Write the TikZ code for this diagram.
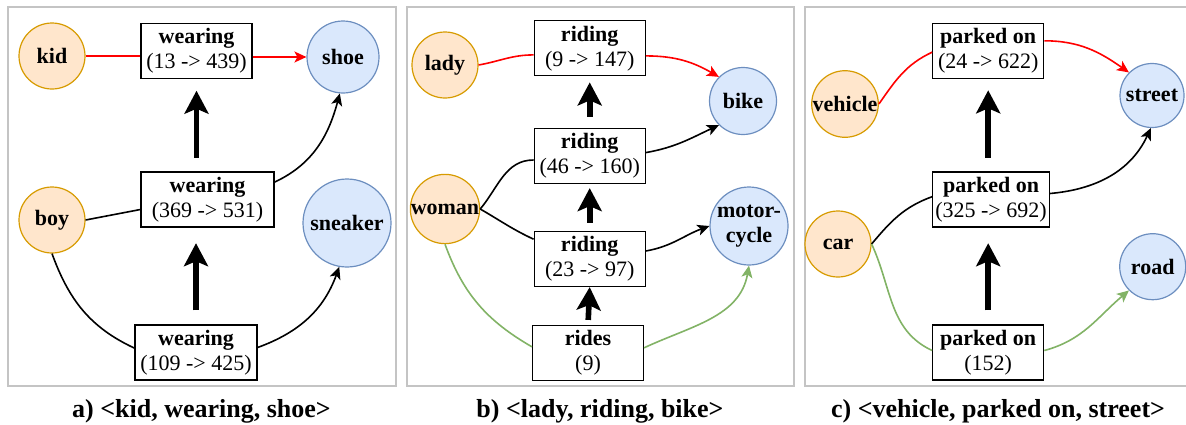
\documentclass[tikz,border=0pt]{standalone}
\usepackage{fontspec}
\setmainfont{Liberation Serif}
\usetikzlibrary{arrows.meta}

\definecolor{subjfill}{HTML}{FFE6CC}
\definecolor{subjline}{HTML}{D79B00}
\definecolor{objfill}{HTML}{DAE8FC}
\definecolor{objline}{HTML}{6C8EBF}
\definecolor{hitred}{HTML}{FF0000}
\definecolor{altgreen}{HTML}{82B366}
\definecolor{panelgray}{HTML}{C4C4C4}

\tikzset{
  subj/.style={circle, draw=subjline, fill=subjfill, line width=0.6pt, minimum size=33pt,
    inner sep=0pt, align=center, font=\fontsize{11}{12.5}\selectfont\bfseries},
  obj/.style={subj, draw=objline, fill=objfill},
  rel/.style={draw, rectangle, line width=0.6pt, minimum height=27.5pt, inner sep=1pt,
    align=center, font=\fontsize{11}{12.5}\selectfont},
  link/.style={line width=0.8pt},
  tip/.style={-{Stealth[length=6pt,width=5.5pt,inset=1.5pt]}},
  bigup/.style={-{Stealth[length=11.5pt,width=12pt,inset=2.5pt]}, line width=2.8pt},
  caption/.style={anchor=base, font=\fontsize{13}{15}\selectfont\bfseries},
}

\begin{document}
\begin{tikzpicture}[x=0.5pt, y=-0.5pt]
\useasboundingbox (0,0) rectangle (1186,424);

% panel frames
\foreach \l/\r in {8/396, 407/794, 805/1192}
  \draw[panelgray, line width=0.7pt] (\l,7) rectangle (\r,386);

% a) kid, wearing, shoe
\node[subj] (kid) at (52,56) {kid};
\node[obj, minimum size=36pt] (shoe) at (343,57) {shoe};
\node[subj] (boy) at (52,220) {boy};
\node[obj, minimum size=44pt] (sneaker) at (347,223) {sneaker};
\node[rel, minimum width=55.5pt] (aw1) at (196.5,51) {\textbf{wearing}\\(13 -> 439)};
\node[rel, minimum width=66.5pt] (aw2) at (207.5,199.5) {\textbf{wearing}\\(369 -> 531)};
\node[rel, minimum width=61pt] (aw3) at (196,352.5) {\textbf{wearing}\\(109 -> 425)};

\draw[link, hitred] (kid.east) -- (kid.east -| aw1.west);
\draw[link, hitred, tip] (aw1.east |- shoe.west) -- (shoe.west);
\draw[link] (boy.east) -- ([yshift=-5pt]aw2.west);
\draw[link, tip] ([yshift=8.7pt]aw2.east) to[out=25,in=-105] (shoe.-95);
\draw[link] (boy.south) to[out=-70,in=155] ([yshift=2.2pt]aw3.west);
\draw[link, tip] ([yshift=2.5pt]aw3.east) to[out=20,in=-110] (sneaker.-100);
\draw[bigup, shorten <=7pt, shorten >=7.8pt] (aw3.north) -- (aw3.north |- aw2.south);
\draw[bigup, shorten <=6.8pt, shorten >=5.8pt] (aw1.south |- aw2.north) -- (aw1.south);

\node[caption] (capa) at (201.5,417) {a) <kid, wearing, shoe>};

% b) lady, riding, bike
\node[subj] (lady) at (445,65) {lady};
\node[subj] (woman) at (445,209) {woman};
\node[obj, minimum size=33.5pt] (bike) at (743,101) {bike};
\node[obj, minimum size=39pt] (moto) at (749,226) {motor-\\cycle};
\node[rel, minimum width=55.5pt] (br1) at (589.7,48.3) {\textbf{riding}\\(9 -> 147)};
\node[rel, minimum width=55.5pt] (br2) at (589.7,156) {\textbf{riding}\\(46 -> 160)};
\node[rel, minimum width=55.5pt] (br3) at (589.7,259) {\textbf{riding}\\(23 -> 97)};
\node[rel, minimum width=55.5pt] (br4) at (588,353) {\textbf{rides}\\(9)};

\draw[link, hitred] (lady.east) to[out=10,in=180] ([yshift=-3.3pt]br1.west);
\draw[link, hitred, tip] ([yshift=-3.8pt]br1.east) to[out=0,in=150] (bike.135);
\draw[link] (woman.east) to[out=50,in=180] ([yshift=-2pt]br2.west);
\draw[link] (woman.east) to[out=-30,in=155] ([yshift=9.9pt]br3.west);
\draw[link, tip] ([yshift=1.7pt]br2.east) to[out=10,in=205] (bike.225);
\draw[link, tip] ([yshift=4pt]br3.east) to[out=10,in=200] (moto.west);
\draw[link, altgreen] (woman.south) to[out=-70,in=150] ([yshift=3.1pt]br4.west);
\draw[link, altgreen, tip] ([yshift=2.6pt]br4.east) to[out=25,in=-100] (moto.south);
\draw[bigup, shorten <=2.5pt] (br4.north) -- (br3.south);
\draw[bigup, shorten <=4pt, shorten >=2pt] (br3.north) -- (br2.south);
\draw[bigup, shorten <=5.5pt, shorten >=3pt] (br2.north) -- (br1.south);

\node[caption] (capb) at (600,417) {b) <lady, riding, bike>};

% c) vehicle, parked on, street
\node[subj] (vehicle) at (845,104) {vehicle};
\node[subj] (car) at (838,244) {car};
\node[obj, minimum size=32pt] (street) at (1152,95.5) {street};
\node[obj] (road) at (1152.7,266.7) {road};
\node[rel, minimum width=55.5pt] (cp1) at (988.2,51.2) {\textbf{parked on}\\(24 -> 622)};
\node[rel, minimum width=58.3pt] (cp2) at (991,199.5) {\textbf{parked on}\\(325 -> 692)};
\node[rel, minimum width=55.5pt] (cp3) at (988.2,352.5) {\textbf{parked on}\\(152)};

\draw[link, hitred] (vehicle.east) to[out=55,in=205] ([yshift=-0.5pt]cp1.west);
\draw[link, hitred, tip] ([yshift=5.2pt]cp1.east) to[out=0,in=145] (street.135);
\draw[link] (car.east) to[out=50,in=200] ([yshift=1.4pt]cp2.west);
\draw[link, tip] ([yshift=3pt]cp2.east) to[out=5,in=-115] (street.-92);
\draw[link, altgreen] (car.east) to[out=-65,in=155] ([yshift=1pt]cp3.west);
\draw[link, altgreen, tip] ([yshift=1pt]cp3.east) to[out=15,in=220] (road.225);
\draw[bigup, shorten <=7pt, shorten >=7.8pt] (cp3.north) -- (cp3.north |- cp2.south);
\draw[bigup, shorten <=6.8pt, shorten >=5.5pt] (cp1.south |- cp2.north) -- (cp1.south);

\node[caption] (capc) at (998,417) {c) <vehicle, parked on, street>};
\end{tikzpicture}
\end{document}
